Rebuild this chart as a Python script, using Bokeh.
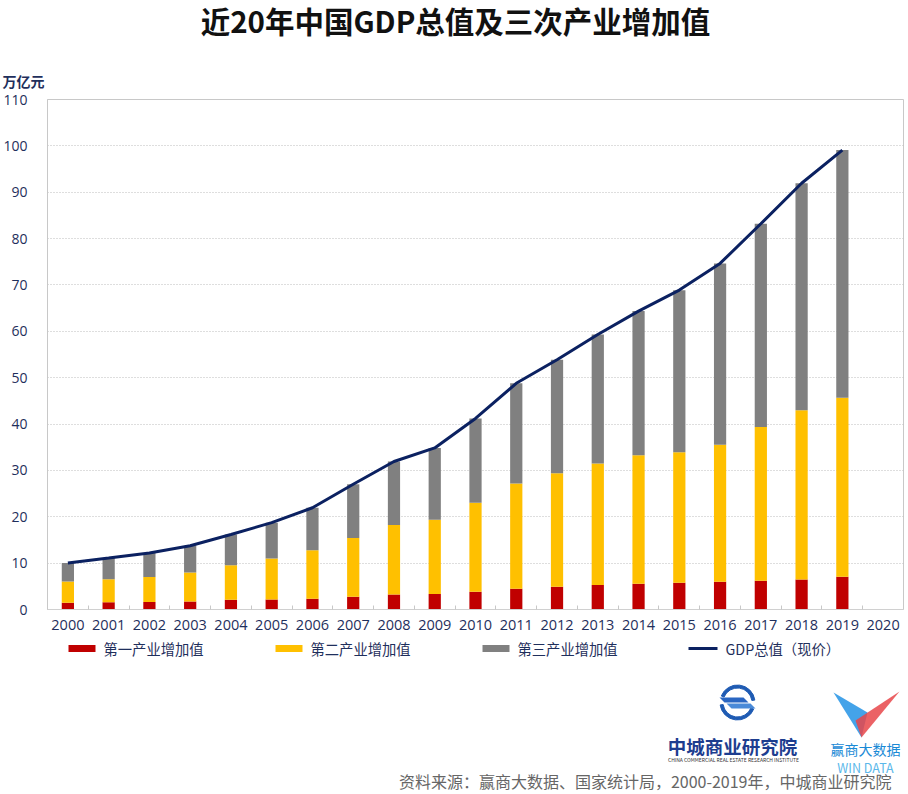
from bokeh.plotting import figure
from bokeh.models import ColumnDataSource, FixedTicker
from bokeh.core.properties import value
from bokeh.embed import file_html
from bokeh.resources import INLINE
import math

# ---------------- data (万亿元) ----------------
years = [2000, 2001, 2002, 2003, 2004, 2005, 2006, 2007, 2008, 2009,
         2010, 2011, 2012, 2013, 2014, 2015, 2016, 2017, 2018, 2019]
tick_years = years + [2020]
tick_labels = [str(y) for y in tick_years]
primary = [1.47, 1.55, 1.62, 1.70, 2.09, 2.18, 2.33, 2.77, 3.25, 3.36,
           3.84, 4.48, 4.91, 5.30, 5.56, 5.78, 6.01, 6.21, 6.47, 7.05]
secondary = [4.57, 4.97, 5.41, 6.27, 7.43, 8.81, 10.44, 12.66, 15.00, 16.02,
             19.16, 22.70, 24.46, 26.20, 27.73, 28.13, 29.54, 33.16, 36.48, 38.62]
tertiary = [3.99, 4.57, 5.14, 5.78, 6.66, 7.74, 9.18, 11.58, 13.68, 15.48,
            18.21, 21.61, 24.49, 27.80, 31.07, 34.97, 39.08, 43.84, 48.97, 53.42]
gdp = [10.03, 11.09, 12.17, 13.74, 16.18, 18.73, 21.94, 27.01, 31.92, 34.85,
       41.21, 48.79, 53.86, 59.30, 64.36, 68.89, 74.64, 83.20, 91.93, 99.09]
y_ticks = [0, 10, 20, 30, 40, 50, 60, 70, 80, 90, 100, 110]
series_names = ["第一产业增加值", "第二产业增加值", "第三产业增加值"]
line_name = "GDP总值（现价）"

title_text = "近20年中国GDP总值及三次产业增加值"
unit_text = "万亿元"
source_text = "资料来源：赢商大数据、国家统计局，2000-2019年，中城商业研究院"

# ---------------- styles / layout ----------------
BAR_COLORS = ["#c00000", "#ffc000", "#808080"]
LINE_COLOR = "#0b2161"
NAVY = "#1f2f5c"
CJK = "Noto Sans CJK SC"
NUM = "Open Sans"

W, H = 906, 792
FL, FT, FW, FH = 47, 99, 856, 510   # frame in canvas px
X0, X1 = 1999.5, 2020.5
Y0, Y1 = 0, 110
PX_X = FW / (X1 - X0)
PX_Y = FH / (Y1 - Y0)


def dx(px):
    return X0 + (px - FL) / PX_X


def dy(py):
    return Y0 + (FT + FH - py) / PX_Y


p = figure(width=W, height=H, output_backend="svg", toolbar_location=None,
           x_range=(X0, X1), y_range=(Y0, Y1), title=None,
           min_border_left=FL, min_border_top=FT,
           min_border_right=W - FL - FW, min_border_bottom=H - FT - FH)
p.background_fill_color = "white"
p.border_fill_color = "white"
p.outline_line_color = "#c8c8c8"
p.outline_line_width = 1

src = ColumnDataSource(dict(year=years, primary=primary, secondary=secondary,
                            tertiary=tertiary, gdp=gdp))

p.vbar_stack(["primary", "secondary", "tertiary"], x="year", width=0.3,
             color=BAR_COLORS, line_color=None, source=src)
p.line(x="year", y="gdp", source=src, line_width=3, color=LINE_COLOR)

# axes
xa = p.xaxis[0]
xa.ticker = FixedTicker(ticks=tick_years, minor_ticks=[y + 0.5 for y in tick_years[:-1]])
xa.major_label_overrides = {y: l for y, l in zip(tick_years, tick_labels)}
xa.major_tick_in = 0
xa.major_tick_out = 0
xa.minor_tick_in = 4
xa.minor_tick_out = 0
xa.minor_tick_line_color = "#c8c8c8"
xa.axis_line_color = "#d0d0d0"
xa.major_label_standoff = 10
xa.major_label_text_font = NUM
xa.major_label_text_font_size = "14.5px"
xa.major_label_text_color = NAVY

ya = p.yaxis[0]
ya.ticker = FixedTicker(ticks=y_ticks)
ya.major_tick_in = 0
ya.major_tick_out = 0
ya.minor_tick_line_color = None
ya.axis_line_color = "#c8c8c8"
ya.major_label_standoff = 20
ya.major_label_text_font = NUM
ya.major_label_text_font_size = "14px"
ya.major_label_text_color = NAVY

p.xgrid.grid_line_color = None
p.ygrid.grid_line_color = "#bdbdbd"
p.ygrid.grid_line_dash = "1 2"
p.ygrid.grid_line_width = 1


def txt(px, py, s, size, color, align="center", bold=False):
    p.text(x=[dx(px)], y=[dy(py)], text=[s], text_font=value(CJK),
           text_font_size=value(size), text_color=color,
           text_font_style="bold" if bold else "normal",
           text_align=align, text_baseline="middle", level="overlay")


# legend (drawn below the axis)
LEG_Y = 648
LEG_LEFT = [68, 275, 482, 688]
SW_W, SW_H = 27, 7
for left, name, col in zip(LEG_LEFT[:3], series_names, BAR_COLORS):
    p.quad(left=[dx(left)], right=[dx(left + SW_W)], top=[dy(LEG_Y - SW_H / 2)],
           bottom=[dy(LEG_Y + SW_H / 2)], color=col, line_color=None, level="overlay")
    txt(left + SW_W + 8, LEG_Y, name, "14.3px", NAVY, align="left")
p.segment(x0=[dx(LEG_LEFT[3])], x1=[dx(LEG_LEFT[3] + 29)], y0=[dy(LEG_Y)], y1=[dy(LEG_Y)],
          line_width=3, color=LINE_COLOR, level="overlay")
txt(LEG_LEFT[3] + 37, LEG_Y, line_name, "14.3px", NAVY, align="left")

txt(455, 19, title_text, "29.5px", "#111111", bold=True)
txt(2, 80, unit_text, "14px", NAVY, align="left", bold=True)
txt(891, 780, source_text, "16px", "#666666", align="right")

# logo 1: 中城商业研究院
cx, cy = dx(737), dy(702)
p.annular_wedge(x=[cx, cx], y=[cy, cy], inner_radius=14.5, outer_radius=17.5,
                inner_radius_units="screen", outer_radius_units="screen",
                start_angle=[math.radians(8), math.radians(188)],
                end_angle=[math.radians(158), math.radians(338)],
                color="#1f5bb3", level="overlay")
p.patch(x=[dx(719), dx(743), dx(748), dx(724)], y=[dy(697), dy(697), dy(702), dy(702)],
        color="#2a66c2", line_color=None, level="overlay")
p.patch(x=[dx(726), dx(750), dx(755), dx(731)], y=[dy(703), dy(703), dy(708), dy(708)],
        color="#4a8ad8", line_color=None, level="overlay")
txt(732, 745, "中城商业研究院", "18.5px", "#1d3d8f", bold=True)
txt(733, 759, "CHINA COMMERCIAL REAL ESTATE RESEARCH INSTITUTE", "5px", "#333333")

# logo 2: 赢商大数据
p.patch(x=[dx(833), dx(867), dx(861)], y=[dy(692), dy(712), dy(737)],
        color="#3a9ee8", line_color=None, level="overlay", alpha=0.95)
p.patch(x=[dx(899), dx(855), dx(861)], y=[dy(691), dy(720), dy(737)],
        color="#e8474a", line_color=None, level="overlay", alpha=0.85)
txt(865, 748, "赢商大数据", "14px", "#1a8ad6")
txt(865, 767, "WIN DATA", "12.5px", "#5bb8ea")

open("out.html", "w").write(file_html(p, INLINE))
